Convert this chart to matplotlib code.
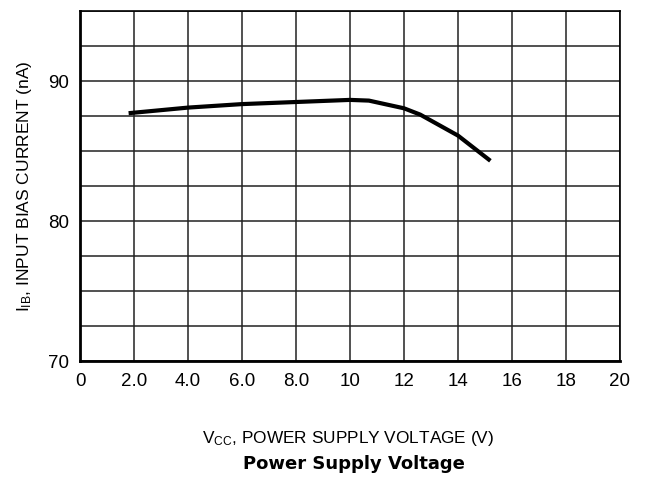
import numpy as np
import matplotlib
matplotlib.use('Agg')
import matplotlib.pyplot as plt
from matplotlib.ticker import MultipleLocator

plt.rcParams['font.family'] = ['Liberation Sans', 'DejaVu Sans']
plt.rcParams['mathtext.default'] = 'regular'

# supply voltage (V) and input bias current (nA)
vcc = [1.8, 4.0, 6.0, 8.0, 10.0, 10.7, 12.0, 12.6, 14.0, 15.2]
iib = [87.7, 88.1, 88.35, 88.5, 88.65, 88.6, 88.05, 87.6, 86.1, 84.3]

xticks = [0, 2, 4, 6, 8, 10, 12, 14, 16, 18, 20]
xticklabels = ['0', '2.0', '4.0', '6.0', '8.0', '10', '12', '14', '16', '18', '20']
yticks = [70, 80, 90]

fig = plt.figure(figsize=(6.52, 4.78), dpi=100)
ax = fig.add_axes([80 / 652, 117 / 478, 540 / 652, 350 / 478])

ax.plot(vcc, iib, color='black', lw=3, solid_capstyle='butt')

ax.set_xlim(0, 20)
ax.set_ylim(70, 95)
ax.set_xticks(xticks)
ax.set_xticklabels(xticklabels)
ax.set_yticks(yticks)
ax.yaxis.set_minor_locator(MultipleLocator(2.5))
ax.tick_params(which='both', length=0, labelsize=13.5)
ax.tick_params(axis='x', pad=8.5)
ax.tick_params(axis='y', pad=8)

ax.grid(True, which='both', color='#222222', lw=1.1)
for s in ['left', 'bottom']:
    ax.spines[s].set_linewidth(2)
for s in ['top', 'right']:
    ax.spines[s].set_linewidth(1.2)

ax.set_ylabel('I$_{IB}$, INPUT BIAS CURRENT (nA)', fontsize=12.5, labelpad=10)
fig.text(348 / 652, 1 - 439 / 478, 'V$_{CC}$, POWER SUPPLY VOLTAGE (V)',
         ha='center', va='center', fontsize=12.4)
fig.text(354 / 652, 1 - 464 / 478, 'Power Supply Voltage',
         ha='center', va='center', fontsize=13, fontweight='bold',
         family=['DejaVu Sans'])

fig.savefig('out.png', dpi=100)
